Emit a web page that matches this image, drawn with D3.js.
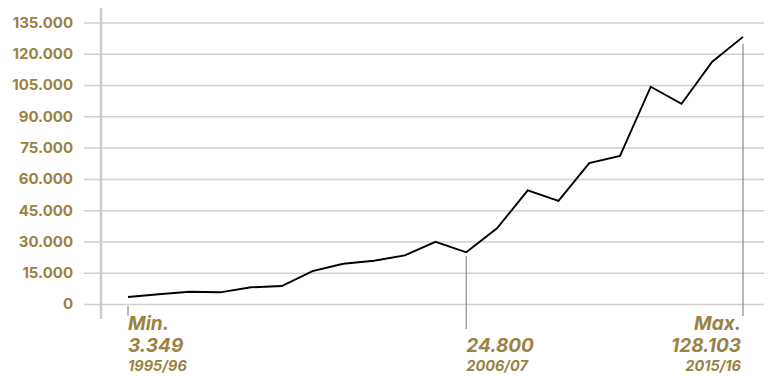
<!DOCTYPE html>
<html>
<head>
<meta charset="utf-8">
<script src="https://cdn.jsdelivr.net/npm/d3@7"></script>
<style>
  html, body { margin: 0; padding: 0; background: #fff; }
  svg { display: block; }
  text { font-family: "Inter", "Open Sans", sans-serif; }
</style>
</head>
<body>
<svg id="chart" width="772" height="376"></svg>
<script>
const seasons = ["1995/96","1996/97","1997/98","1998/99","1999/00","2000/01","2001/02","2002/03","2003/04","2004/05","2005/06","2006/07","2007/08","2008/09","2009/10","2010/11","2011/12","2012/13","2013/14","2014/15","2015/16"];
const values = [3349, 4650, 5850, 5600, 8000, 8630, 15800, 19300, 20750, 23300, 29800, 24800, 36300, 54500, 49500, 67600, 71000, 104200, 96000, 116200, 128103];
const yTicks = [0, 15000, 30000, 45000, 60000, 75000, 90000, 105000, 120000, 135000];
const annotations = [
  { index: 0, title: "Min.", label: "3.349", anchor: "start" },
  { index: 11, title: "", label: "24.800", anchor: "start" },
  { index: 20, title: "Max.", label: "128.103", anchor: "end" }
];

const gold = "#9a8244";
const svg = d3.select("#chart");

const x = d3.scalePoint().domain(seasons).range([128, 743]);
const y = d3.scaleLinear().domain([0, 135000]).range([304, 22.5]);

const fmt = v => d3.format(",")(v).replace(/,/g, ".");

// gridlines via axis
const yAxis = d3.axisLeft(y).tickValues(yTicks).tickSize(-680).tickFormat(fmt);
const gAxis = svg.append("g").attr("transform", "translate(764,0)").call(yAxis);
gAxis.select(".domain").remove();
gAxis.selectAll(".tick line").attr("stroke", "#d0d0d0").attr("stroke-width", 1.5).attr("x1", 0).attr("x2", -680);
gAxis.selectAll(".tick text").remove();

// tick labels
svg.append("g").selectAll("text").data(yTicks).join("text")
  .attr("x", 73).attr("y", d => y(d)).attr("dy", "0.36em")
  .attr("text-anchor", "end")
  .attr("fill", gold).attr("font-weight", 700).attr("font-size", 15)
  .text(fmt);

// vertical axis line
svg.append("line").attr("x1", 101).attr("x2", 101).attr("y1", 8).attr("y2", 319)
  .attr("stroke", "#cccccc").attr("stroke-width", 2.5);

// annotation lines
const annLines = [
  { index: 0, y1: y(0) + 2, y2: 315.5 },
  { index: 11, y1: y(values[11]) + 4, y2: 329 },
  { index: 20, y1: y(values[20]) + 7, y2: 316 }
];
svg.append("g").selectAll("line").data(annLines).join("line")
  .attr("x1", d => x(seasons[d.index])).attr("x2", d => x(seasons[d.index]))
  .attr("y1", d => d.y1).attr("y2", d => d.y2)
  .attr("stroke", "#808080").attr("stroke-width", 1.1);

// line
const line = d3.line().x((d, i) => x(seasons[i])).y(d => y(d));
svg.append("path").datum(values).attr("d", line)
  .attr("fill", "none").attr("stroke", "#000").attr("stroke-width", 1.9).attr("stroke-linejoin", "miter");

// annotation texts
const gAnn = svg.append("g");
annotations.forEach(a => {
  const ax = x(seasons[a.index]) + (a.anchor === "end" ? -2 : 0);
  const g = gAnn.append("g").attr("fill", gold).attr("font-style", "italic").attr("font-weight", 700)
    .attr("text-anchor", a.anchor);
  if (a.title) g.append("text").attr("x", ax).attr("y", 330).attr("font-size", 19).text(a.title);
  g.append("text").attr("x", ax).attr("y", 351.5).attr("font-size", 19).text(a.label);
  g.append("text").attr("x", ax).attr("y", 371).attr("font-size", 14.5).text(seasons[a.index]);
});
</script>
</body>
</html>
